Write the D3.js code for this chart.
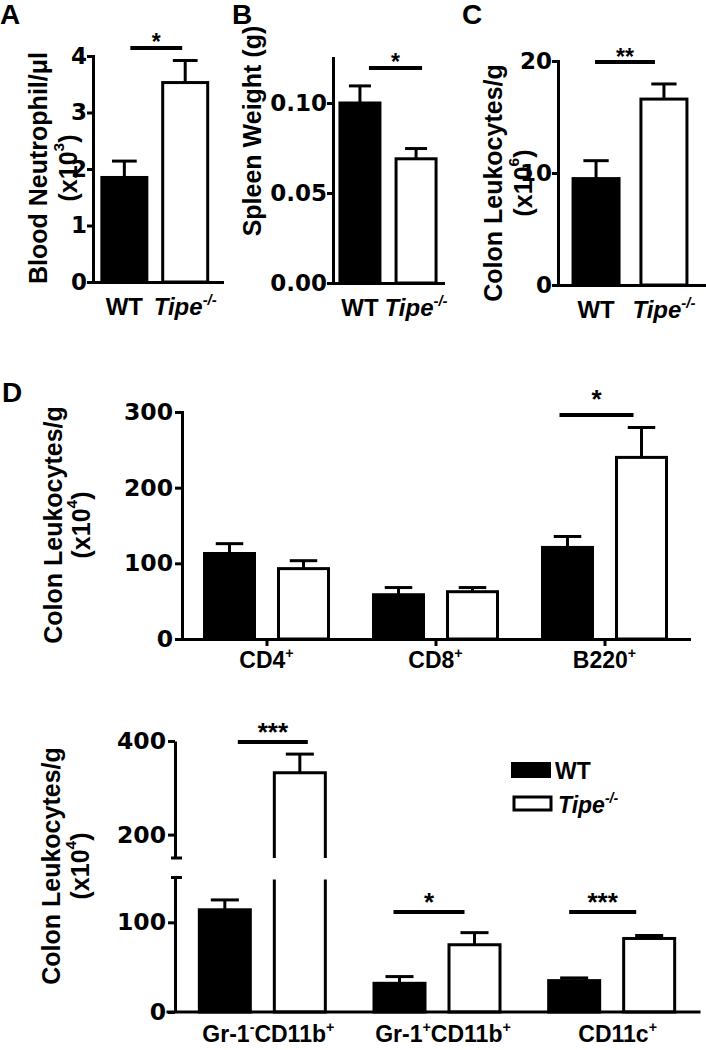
<!DOCTYPE html>
<html><head><meta charset="utf-8">
<script src="https://cdn.jsdelivr.net/npm/d3@7"></script>
<style>
body{margin:0;background:#fff}
svg text{font-family:"Liberation Sans",Arial,Helvetica,sans-serif;font-weight:bold;fill:#000}
</style>
</head><body>
<svg id="chart" width="706" height="1050"></svg>
<script>
// ---------------- DATA ----------------
const genotypes = ["WT", "Tipe"];
const genotypeLabels = ["WT", "Tipe^{-/-}"];

const neutroMean = [1.85, 3.53];
const neutroSem  = [0.29, 0.39];
const neutroTicks = [0, 1, 2, 3, 4];
const neutroSig = [{label: "*", level: 4.14}];

const spleenMean = [0.100, 0.069];
const spleenSem  = [0.0095, 0.0057];
const spleenTicks = [0.00, 0.05, 0.10];
const spleenSig = [{label: "*", level: 0.1194}];

const colonMean = [9.5, 16.6];
const colonSem  = [1.6, 1.35];
const colonTicks = [0, 10, 20];
const colonSig = [{label: "**", level: 19.9}];

const dTopCats   = ["CD4", "CD8", "B220"];
const dTopLabels = ["CD4^+", "CD8^+", "B220^+"];
const dTopWT     = [113, 58.5, 121];
const dTopWTSem  = [13, 9.5, 14.5];
const dTopKO     = [93, 62.5, 240];
const dTopKOSem  = [10.5, 5.5, 39.5];
const dTopTicks  = [0, 100, 200, 300];
const dTopSig    = [{cat: "B220", label: "*", level: 296}];

const dBotCats   = ["Gr1negCD11b", "Gr1posCD11b", "CD11c"];
const dBotLabels = ["Gr-1^-CD11b^+", "Gr-1^+CD11b^+", "CD11c^+"];
const dBotWT     = [114, 32, 35];
const dBotWTSem  = [11, 7.5, 3];
const dBotKO     = [332, 75, 82];
const dBotKOSem  = [40, 13.5, 3.3];
const dBotTicksLow  = [0, 100];
const dBotTicksHigh = [200, 400];
const dBotBreak  = 150;
const dBotMax    = 400;
const dBotSig    = [
  {cat: "Gr1negCD11b", label: "***", level: 398},
  {cat: "Gr1posCD11b", label: "*",   level: 111.5},
  {cat: "CD11c",       label: "***", level: 111.5}
];

// ---------------- HELPERS ----------------
const svg = d3.select("#chart");
const SW = 3;

function richText(g, str, o) {
  const size = o.size || 24;
  const t = g.append("text").attr("font-size", size).attr("text-anchor", o.anchor || "start");
  if (o.rotate) t.attr("transform", `translate(${o.x},${o.y}) rotate(${o.rotate})`);
  else t.attr("x", o.x).attr("y", o.y);
  if (o.baseline) t.attr("dominant-baseline", o.baseline);
  if (o.italic) t.attr("font-style", "italic");
  const re = /\^\{([^}]*)\}|\^(.)|([^^]+)/g;
  let m, shifted = false;
  while ((m = re.exec(str))) {
    if (m[3] !== undefined) {
      const s = t.append("tspan").text(m[3]);
      if (shifted) { s.attr("dy", 0.42 * size); shifted = false; }
    } else {
      t.append("tspan").text(m[1] !== undefined ? m[1] : m[2])
        .attr("font-size", size * 0.62).attr("dy", -0.42 * size);
      shifted = true;
    }
  }
  return t;
}

function styleAxis(ax, size) {
  ax.selectAll("path.domain").attr("stroke", "#000").attr("stroke-width", SW).attr("stroke-linecap", "square");
  ax.selectAll(".tick line").attr("stroke", "#000").attr("stroke-width", SW);
  ax.selectAll(".tick text").attr("font-size", size).attr("fill", "#000")
    .style("font-family", "'DejaVu Sans', 'Liberation Sans', sans-serif").style("font-weight", "bold");
  ax.attr("font-family", null).attr("font-size", null);
}

function drawBar(g, x, w, yTop, yBase, filled) {
  g.append("rect").attr("x", x - w / 2).attr("width", w)
    .attr("y", yTop).attr("height", yBase - yTop)
    .attr("fill", filled ? "#000" : "#fff").attr("stroke", "#000").attr("stroke-width", SW);
}
function drawErr(g, x, y0, y1, capW) {
  g.append("line").attr("x1", x).attr("x2", x).attr("y1", y0).attr("y2", y1)
    .attr("stroke", "#000").attr("stroke-width", SW);
  g.append("line").attr("x1", x - capW / 2).attr("x2", x + capW / 2).attr("y1", y1).attr("y2", y1)
    .attr("stroke", "#000").attr("stroke-width", SW);
}
function drawSig(g, x1, x2, y, label, gap, size) {
  g.append("line").attr("x1", x1).attr("x2", x2).attr("y1", y).attr("y2", y)
    .attr("stroke", "#000").attr("stroke-width", 4);
  g.append("text").attr("x", (x1 + x2) / 2).attr("y", y - gap + 0.57 * size)
    .attr("text-anchor", "middle").attr("font-size", size).text(label);
}

// ---------------- SIMPLE PANELS (A, B, C) ----------------
function simplePanel(p) {
  const g = svg.append("g");
  const y = d3.scaleLinear().domain(p.domain).range(p.yRange);
  const x = d3.scalePoint().domain(genotypes).range(p.xRange).padding(p.pad).align(p.align);
  const means = p.means, sems = p.sems;
  genotypes.forEach((k, i) => {
    drawErr(g, x(k), y(means[i]), y(means[i] + sems[i]), p.barW * 0.55);
    drawBar(g, x(k), p.barW, y(means[i]), y(0), i === 0);
  });
  const ay = g.append("g").attr("transform", `translate(${p.xRange[0]},0)`)
    .call(d3.axisLeft(y).tickValues(p.ticks).tickFormat(d3.format(p.fmt)).tickSize(6).tickSizeOuter(0).tickPadding(0));
  styleAxis(ay, 23);
  const ax = g.append("g").attr("transform", `translate(0,${y(0)})`)
    .call(d3.axisBottom(x).tickSize(0).tickSizeOuter(0).tickFormat(""));
  styleAxis(ax, 23);
  genotypes.forEach((k, i) => {
    richText(g, genotypeLabels[i], {x: x(k), y: y(0) + 33, size: 24, anchor: "middle", italic: i === 1});
  });
  p.sig.forEach(s => drawSig(g, x("WT") + p.sigDx[0], x("Tipe") + p.sigDx[1], y(s.level), s.label, p.starGap, 23));
  p.ylab.forEach((line, i) => {
    richText(g, line, {x: p.ylabX[i], y: p.ylabY, size: 25, anchor: "middle", rotate: -90, baseline: "central"});
  });
  g.append("text").attr("x", p.letterX).attr("y", 23.5).attr("font-size", 28).text(p.letter);
}

simplePanel({letter: "A", letterX: 0, means: neutroMean, sems: neutroSem, ticks: neutroTicks, fmt: "d",
  domain: [0, 4], yRange: [282, 56], xRange: [93, 222], pad: 0.56, align: 0.46, barW: 45,
  sig: neutroSig, sigDx: [6, -3], starGap: 11,
  ylab: ["Blood Neutrophil/μl", "(x10^3)"], ylabX: [38, 68], ylabY: 168});

simplePanel({letter: "B", letterX: 232, means: spleenMean, sems: spleenSem, ticks: spleenTicks, fmt: ".2f",
  domain: [0, 0.125], yRange: [283, 58], xRange: [333, 443], pad: 0.48, align: 0.5, barW: 40,
  sig: spleenSig, sigDx: [9, 6], starGap: 11,
  ylab: ["Spleen Weight (g)"], ylabX: [252], ylabY: 131});

simplePanel({letter: "C", letterX: 462, means: colonMean, sems: colonSem, ticks: colonTicks, fmt: "d",
  domain: [0, 20], yRange: [285, 61], xRange: [558, 706], pad: 0.59, align: 0.475, barW: 46,
  sig: colonSig, sigDx: [-1, -9], starGap: 10,
  ylab: ["Colon Leukocytes/g", "(x10^6)"], ylabX: [493, 523], ylabY: 183});

// ---------------- PANEL D (top) ----------------
(function () {
  const g = svg.append("g");
  g.append("text").attr("x", 2).attr("y", 402).attr("font-size", 28).text("D");
  const y = d3.scaleLinear().domain([0, 300]).range([639, 412]);
  const xg = d3.scalePoint().domain(dTopCats).range([182, 689]).padding(0.5);
  const xs = d3.scalePoint().domain(genotypes).range([-37, 37]);
  const barW = 50;
  dTopCats.forEach((c, i) => {
    [[dTopWT, dTopWTSem], [dTopKO, dTopKOSem]].forEach(([m, s], j) => {
      const cx = xg(c) + xs(genotypes[j]);
      drawErr(g, cx, y(m[i]), y(m[i] + s[i]), barW * 0.55);
      drawBar(g, cx, barW, y(m[i]), y(0), j === 0);
    });
  });
  const ay = g.append("g").attr("transform", "translate(182,0)")
    .call(d3.axisLeft(y).tickValues(dTopTicks).tickFormat(d3.format("d")).tickSize(7).tickSizeOuter(0).tickPadding(2));
  styleAxis(ay, 23.5);
  const ax = g.append("g").attr("transform", `translate(0,${y(0)})`)
    .call(d3.axisBottom(xg).tickSize(7).tickSizeOuter(0).tickFormat(""));
  styleAxis(ax, 23);
  dTopCats.forEach((c, i) => richText(g, dTopLabels[i], {x: xg(c), y: 668, size: 23, anchor: "middle"}));
  dTopSig.forEach(s => drawSig(g, xg(s.cat) + xs("WT") - 8, xg(s.cat) + xs("Tipe") - 8, y(s.level), s.label, 22, 26));
  richText(g, "Colon Leukocytes/g", {x: 53, y: 525, size: 25, anchor: "middle", rotate: -90, baseline: "central"});
  richText(g, "(x10^4)", {x: 81, y: 525, size: 25, anchor: "middle", rotate: -90, baseline: "central"});
})();

// ---------------- PANEL D (bottom, broken axis) ----------------
(function () {
  const g = svg.append("g");
  const yLow = d3.scaleLinear().domain([0, dBotBreak]).range([1012, 877.5]);
  const yHigh = d3.scaleLinear().domain([dBotBreak, dBotMax]).range([858, 741]);
  const yB = v => v <= dBotBreak ? yLow(v) : yHigh(v);
  const xg = d3.scalePoint().domain(dBotCats).range([175, 699]).padding(0.5);
  const xs = d3.scalePoint().domain(genotypes).range([-37.5, 37.5]);
  const barW = 51;
  dBotCats.forEach((c, i) => {
    [[dBotWT, dBotWTSem], [dBotKO, dBotKOSem]].forEach(([m, s], j) => {
      const cx = xg(c) + xs(genotypes[j]);
      const v = m[i];
      drawErr(g, cx, yB(v), yB(v + s[i]), barW * 0.55);
      if (v <= dBotBreak) {
        drawBar(g, cx, barW, yB(v), yLow(0), j === 0);
      } else {
        const fill = j === 0 ? "#000" : "#fff";
        const l = cx - barW / 2, r = cx + barW / 2;
        const lowTop = yLow(dBotBreak) + 2, highBot = yHigh(dBotBreak);
        g.append("rect").attr("x", l).attr("width", barW).attr("y", lowTop).attr("height", yLow(0) - lowTop).attr("fill", fill);
        g.append("path").attr("d", `M${l},${lowTop}V${yLow(0)}H${r}V${lowTop}`)
          .attr("fill", "none").attr("stroke", "#000").attr("stroke-width", SW);
        g.append("rect").attr("x", l).attr("width", barW).attr("y", yB(v)).attr("height", highBot - yB(v)).attr("fill", fill);
        g.append("path").attr("d", `M${l},${highBot}V${yB(v)}H${r}V${highBot}`)
          .attr("fill", "none").attr("stroke", "#000").attr("stroke-width", SW);
      }
    });
  });
  const ayl = g.append("g").attr("transform", "translate(175,0)")
    .call(d3.axisLeft(yLow).tickValues(dBotTicksLow).tickFormat(d3.format("d")).tickSize(7).tickSizeOuter(0).tickPadding(2));
  styleAxis(ayl, 23.5);
  const ayh = g.append("g").attr("transform", "translate(175,0)")
    .call(d3.axisLeft(yHigh).tickValues(dBotTicksHigh).tickFormat(d3.format("d")).tickSize(7).tickSizeOuter(0).tickPadding(2));
  styleAxis(ayh, 23.5);
  ayl.selectAll("path.domain").attr("stroke-linecap", "butt");
  ayh.selectAll("path.domain").attr("stroke-linecap", "butt");
  [yLow(dBotBreak), yHigh(dBotBreak)].forEach(yy => {
    g.append("line").attr("x1", 171).attr("x2", 182).attr("y1", yy).attr("y2", yy)
      .attr("stroke", "#000").attr("stroke-width", SW);
  });
  const ax = g.append("g").attr("transform", `translate(0,${yLow(0)})`)
    .call(d3.axisBottom(xg).tickSize(0).tickSizeOuter(0).tickFormat(""));
  styleAxis(ax, 23);
  ax.selectAll("path.domain").attr("d", `M168,0H699`);
  dBotCats.forEach((c, i) => richText(g, dBotLabels[i], {x: xg(c) + 6, y: 1042, size: 23, anchor: "middle"}));
  const sigDx = {Gr1negCD11b: [13, 8], Gr1posCD11b: [-6, -10], CD11c: [-5, -13]};
  dBotSig.forEach(s => drawSig(g, xg(s.cat) + xs("WT") + sigDx[s.cat][0], xg(s.cat) + xs("Tipe") + sigDx[s.cat][1], yB(s.level), s.label, 16, 26));
  richText(g, "Colon Leukocytes/g", {x: 51, y: 866, size: 25, anchor: "middle", rotate: -90, baseline: "central"});
  richText(g, "(x10^4)", {x: 80, y: 866, size: 25, anchor: "middle", rotate: -90, baseline: "central"});

  // legend
  const lg = g.append("g");
  lg.append("rect").attr("x", 511).attr("y", 762).attr("width", 40).attr("height", 16).attr("fill", "#000");
  lg.append("rect").attr("x", 514).attr("y", 797).attr("width", 37).attr("height", 13)
    .attr("fill", "#fff").attr("stroke", "#000").attr("stroke-width", SW);
  richText(lg, genotypeLabels[0], {x: 555, y: 779, size: 23});
  richText(lg, genotypeLabels[1], {x: 558, y: 813, size: 23, italic: true});
})();
</script>
</body></html>
